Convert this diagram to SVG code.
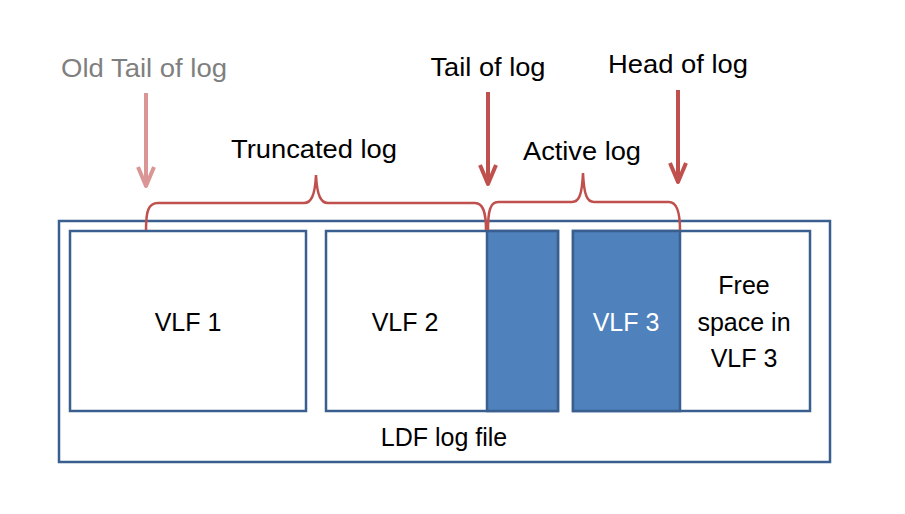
<svg xmlns="http://www.w3.org/2000/svg" width="905" height="514" viewBox="0 0 905 514">
<style>
text{font-family:"Liberation Sans",Arial,sans-serif;font-size:25px;fill:#000;text-anchor:middle}
.box{fill:#fff;stroke:#3a5f8f;stroke-width:2.5}
.blue{fill:#4f81bd;stroke:#3a5f8f;stroke-width:2.5}
.brace{fill:none;stroke:#c0504d;stroke-width:2.5}
.arr{fill:none;stroke:#c0504d;stroke-width:4;stroke-linejoin:round}
.arrOld{fill:none;stroke:#d99694;stroke-width:4;stroke-linejoin:round}
</style>
<rect width="905" height="514" fill="#fff"/>
<g id="ldf">
<rect class="box" x="59" y="221" width="771" height="241"/>
<text x="444" y="446">LDF log file</text>
</g>
<g id="vlf1">
<rect class="box" x="70" y="231" width="236" height="180"/>
<text x="188" y="331">VLF 1</text>
</g>
<g id="vlf2">
<rect class="box" x="326" y="231" width="232" height="180"/>
<rect class="blue" x="487" y="231" width="71" height="180"/>
<text x="405" y="331">VLF 2</text>
</g>
<g id="vlf3">
<rect class="box" x="573" y="231" width="237" height="180"/>
<rect class="blue" x="573" y="231" width="107" height="180"/>
<text x="626" y="331" style="fill:#fff">VLF 3</text>
</g>
<g id="free">
<text x="744" y="294">Free</text>
<text x="744" y="331">space in</text>
<text x="744" y="367">VLF 3</text>
</g>
<g id="labels">
<text x="144" y="77" style="fill:#7f7f7f" textLength="166" lengthAdjust="spacingAndGlyphs">Old Tail of log</text>
<text x="488" y="76" textLength="115" lengthAdjust="spacingAndGlyphs">Tail of log</text>
<text x="678" y="73" textLength="140" lengthAdjust="spacingAndGlyphs">Head of log</text>
<text x="314" y="158" textLength="166" lengthAdjust="spacingAndGlyphs">Truncated log</text>
<text x="582" y="160" textLength="118" lengthAdjust="spacingAndGlyphs">Active log</text>
</g>
<g id="connectors">
<path class="brace" d="M146,230 C146,212 148,203 158,203 L304,203 C311,203 315,196 316,175 C317,196 321,203 328,203 L475,203 C483,203 486,212 486,230"/>
<path class="brace" d="M488,230 C488,212 490,202 498,202 L572,202 C579,202 582,195 583,173 C584,195 587,202 594,202 L669,202 C677,202 680,212 680,230"/>
<line class="arrOld" x1="146" y1="93" x2="146" y2="186"/>
<polyline class="arrOld" points="138,167 146,186 154,167"/>
<line class="arr" x1="488" y1="92" x2="488" y2="184"/>
<polyline class="arr" points="480,165 488,184 496,165"/>
<line class="arr" x1="678" y1="90" x2="678" y2="182"/>
<polyline class="arr" points="670,163 678,182 686,163"/>
</g>
</svg>
